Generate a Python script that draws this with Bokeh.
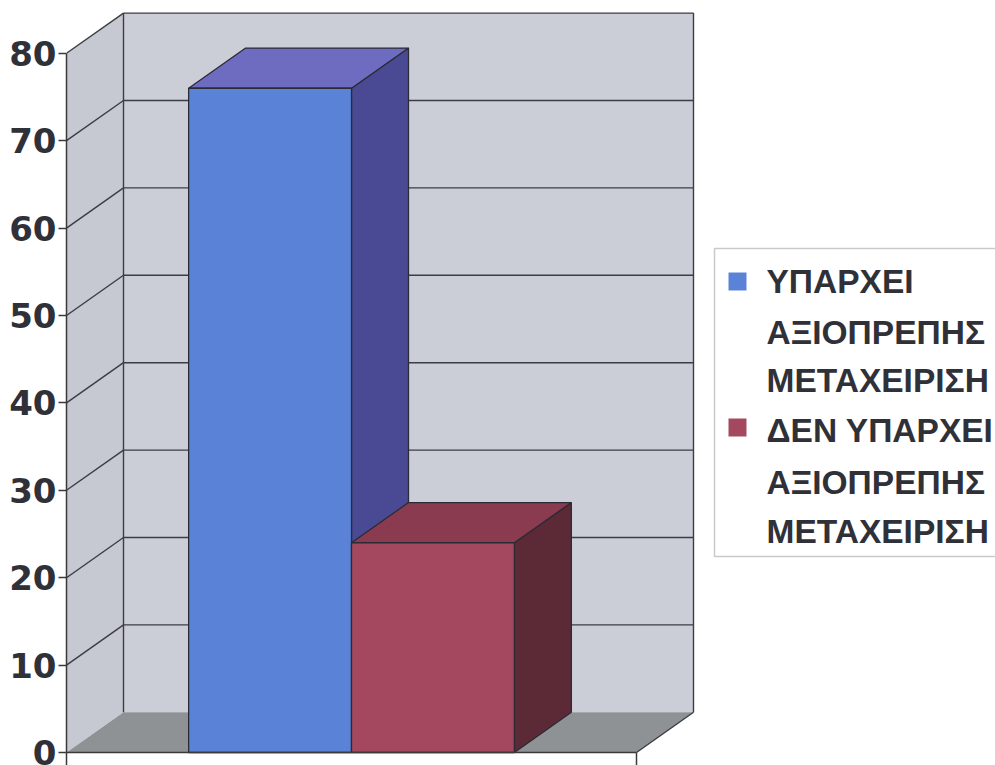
from bokeh.plotting import figure
from bokeh.models import Range1d, FixedTicker, BoxAnnotation, Label
from bokeh.embed import file_html
from bokeh.resources import INLINE

# ---- data ----
series_names = [
    ["ΥΠΑΡΧΕΙ", "ΑΞΙΟΠΡΕΠΗΣ", "ΜΕΤΑΧΕΙΡΙΣΗ"],
    ["ΔΕΝ ΥΠΑΡΧΕΙ", "ΑΞΙΟΠΡΕΠΗΣ", "ΜΕΤΑΧΕΙΡΙΣΗ"],
]
series_values = [76, 24]
y_ticks = [0, 10, 20, 30, 40, 50, 60, 70, 80]

# ---- colours (front, top, side) ----
front_colors = ["#5a83d8", "#a3485f"]
top_colors = ["#6e6cc0", "#8a3b4f"]
side_colors = ["#4a4a94", "#5b2a36"]
wall_color = "#cbced7"
side_wall_color = "#c6c9d1"
floor_color = "#8e9294"
edge_color = "#2b2b35"

# ---- 3D geometry (category width = 1 unit) ----
Y_MAX = 80
DX = 0.1       # depth offset along x, in category units
DY = 4.6       # depth offset along y, in value units
GAP = 1.5      # gap width as a multiple of bar width
bar_w = 1.0 / (len(series_values) + GAP)
x_start = bar_w * GAP / 2

LEFT = 66      # width of the axis panel
p = figure(
    width=995, height=765,
    x_range=Range1d(0, 929 / 570), y_range=Range1d(-1.487, 86.04),
    output_backend="svg", toolbar_location=None,
    min_border_left=LEFT, min_border_right=0, min_border_top=0, min_border_bottom=0,
    background_fill_color="white", border_fill_color="white",
)
p.outline_line_color = None
p.xaxis.visible = False
p.grid.visible = False

# left value axis
yax = p.yaxis[0]
yax.ticker = FixedTicker(ticks=y_ticks)
yax.bounds = (-1.487, Y_MAX)
yax.axis_line_color = "#3a3a3a"
yax.axis_line_width = 1.5
yax.major_tick_line_color = "#3a3a3a"
yax.major_tick_line_width = 1.5
yax.major_tick_out = 8
yax.major_tick_in = 0
yax.minor_tick_line_color = None
yax.major_label_standoff = 2
yax.major_label_text_font = "DejaVu Sans"
yax.major_label_text_font_style = "bold"
yax.major_label_text_font_size = "34px"
yax.major_label_text_color = "#303138"

# back wall
p.quad(left=DX, right=1 + DX, bottom=DY, top=Y_MAX + DY,
       fill_color=wall_color, line_color=None)
# side wall
p.patch([0, DX, DX, 0], [0, DY, Y_MAX + DY, Y_MAX],
        fill_color=side_wall_color, line_color=None)
# floor
p.patch([0, 1, 1 + DX, DX], [0, 0, DY, DY],
        fill_color=floor_color, line_color=None)

# gridlines on back wall and side wall
grid_vals = [t for t in y_ticks if t > 0]
p.segment(x0=[DX] * len(grid_vals), y0=[t + DY for t in grid_vals],
          x1=[1 + DX] * len(grid_vals), y1=[t + DY for t in grid_vals],
          line_color="#3c3c44", line_width=1.4)
p.segment(x0=[0] * len(grid_vals), y0=grid_vals,
          x1=[DX] * len(grid_vals), y1=[t + DY for t in grid_vals],
          line_color="#3c3c44", line_width=1.4)
# wall edges
p.line([DX, DX], [DY, Y_MAX + DY], line_color="#3c3c44", line_width=1.4)
p.line([1 + DX, 1 + DX], [DY, Y_MAX + DY], line_color="#3c3c44", line_width=1.4)
p.line([1, 1 + DX], [0, DY], line_color="#3c3c44", line_width=1.4)

# bars: sides, tops and front faces
for i, v in enumerate(series_values):
    x0 = x_start + i * bar_w
    x1 = x0 + bar_w
    p.patch([x1, x1 + DX, x1 + DX, x1], [0, DY, v + DY, v],
            fill_color=side_colors[i], line_color=edge_color, line_width=1.3)
    p.patch([x0, x1, x1 + DX, x0 + DX], [v, v, v + DY, v + DY],
            fill_color=top_colors[i], line_color=edge_color, line_width=1.3)
    p.quad(left=x0, right=x1, bottom=0, top=v,
           fill_color=front_colors[i], line_color=edge_color, line_width=1.3)

# category axis line and end tick
p.line([0, 1], [0, 0], line_color="#3a3a3a", line_width=1.5)
p.line([1, 1], [0, -1.487], line_color="#3a3a3a", line_width=1.5)

# legend box (screen units relative to the plot frame; y measured from bottom)
H = 765
def sx(px):
    return px - LEFT

p.add_layout(BoxAnnotation(left=sx(714), right=sx(1010), top=H - 248, bottom=H - 556,
                           left_units="screen", right_units="screen",
                           top_units="screen", bottom_units="screen",
                           fill_color="white", fill_alpha=1.0,
                           line_color="#505050", line_width=1.5, level="overlay"))
line_y = [[281, 332, 380], [430, 482, 531]]
swatch_y = [281, 427]
for i, lines in enumerate(series_names):
    sy = swatch_y[i]
    p.add_layout(BoxAnnotation(left=sx(728), right=sx(746), top=H - (sy - 9), bottom=H - (sy + 9),
                               left_units="screen", right_units="screen",
                               top_units="screen", bottom_units="screen",
                               fill_color=front_colors[i], fill_alpha=1.0,
                               line_color=None, level="overlay"))
    for j, txt in enumerate(lines):
        p.add_layout(Label(x=sx(766), y=H - line_y[i][j], x_units="screen", y_units="screen",
                           text=txt, text_baseline="middle", text_align="left",
                           text_font="Liberation Sans", text_font_style="bold",
                           text_font_size="33.5px", text_color="#303138", level="overlay"))

open("out.html", "w").write(file_html(p, INLINE))
